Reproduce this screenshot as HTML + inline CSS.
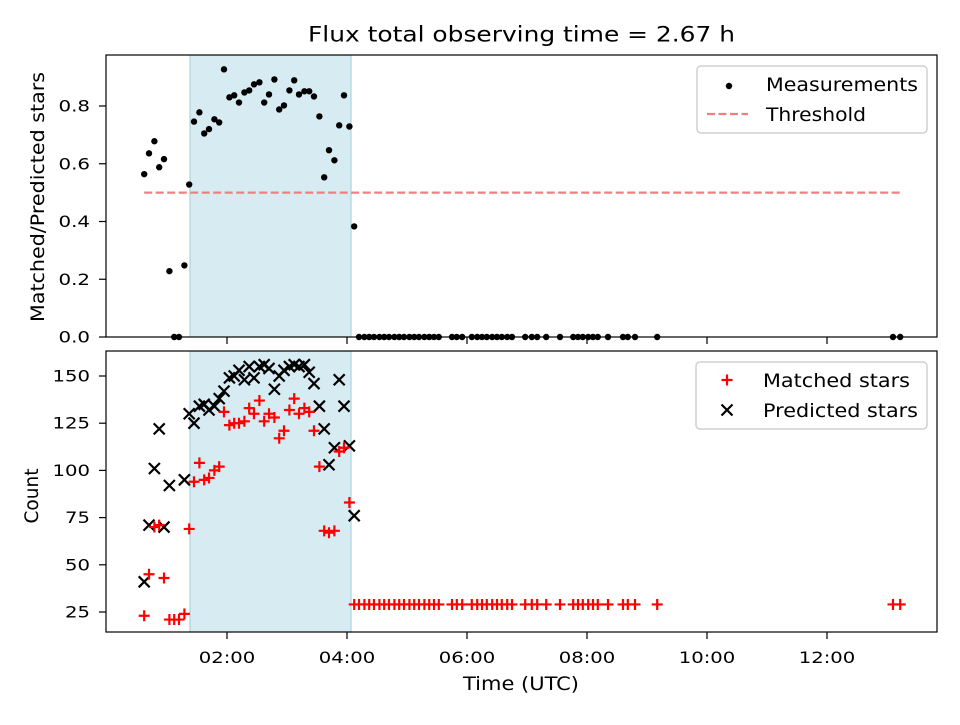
<!DOCTYPE html>
<html><head><meta charset="utf-8"><style>
body{margin:0;background:#fff;}
svg text{font-family:"DejaVu Sans","Liberation Sans",sans-serif;fill:#000;}
</style></head><body>
<svg id="fig" width="960" height="720" viewBox="0 0 960 720" xmlns="http://www.w3.org/2000/svg"></svg>
<script>
const shadedTimes = [0.62,0.70,0.79,0.87,0.95,1.04,1.12,1.20,1.29,1.37,1.45,1.54,1.62,1.70,1.79,1.87,1.95,2.04,2.12,2.20,2.29,2.37,2.45,2.54,2.62,2.70,2.79,2.87,2.95,3.04,3.12,3.20,3.29,3.37,3.45,3.54,3.62,3.70,3.79,3.87,3.95,4.04,4.12];
const ratioVals = [0.564,0.636,0.678,0.588,0.616,0.228,0,0,0.248,0.528,0.746,0.778,0.705,0.72,0.754,0.743,0.927,0.83,0.837,0.812,0.847,0.854,0.875,0.882,0.812,0.84,0.892,0.788,0.802,0.854,0.889,0.84,0.851,0.851,0.833,0.764,0.553,0.647,0.612,0.733,0.837,0.729,0.383];
const matchedVals = [23,45,70,71,43,21,21,21,24,69,94,104,95,96,100,102,131,124,125,125,126,133,130,137,126,130,128,117,121,132,138,130,133,131,121,102,68,67,68,110,112,83,29];
const predictedVals = [41,71,101,122,70,92,null,null,95,130,125,134,135,132,134,138,142,149,150,153,148,155,149,155,156,154,143,150,153,155,156,155,156,152,146,134,122,103,112,148,134,113,76];
const laterTimes = [4.20,4.29,4.37,4.45,4.54,4.62,4.70,4.79,4.87,4.95,5.04,5.12,5.20,5.29,5.37,5.45,5.53,5.75,5.83,5.92,6.08,6.17,6.25,6.33,6.42,6.50,6.58,6.67,6.75,6.97,7.08,7.17,7.32,7.55,7.77,7.85,7.93,8.02,8.10,8.18,8.35,8.60,8.68,8.80,9.17,13.10,13.22];
const laterRatio = 0;
const laterMatched = 29;
const threshold = 0.5;
const thresholdRange = [0.62, 13.22];
const spanRange = [1.383, 4.067];
const xTickVals = [2,4,6,8,10,12];
const xTickLabels = ["02:00","04:00","06:00","08:00","10:00","12:00"];
const topTicks = [0.0,0.2,0.4,0.6,0.8];
const botTicks = [25,50,75,100,125,150];

const NS="http://www.w3.org/2000/svg";
const svg=document.getElementById('fig');
function mk(tag,attrs,parent){const e=document.createElementNS(NS,tag);for(const k in attrs)e.setAttribute(k,attrs[k]);(parent||svg).appendChild(e);return e;}
function tlen(s){let w=0;for(const c of s){w+=(c==='.'||c===':')?6.5:12.5;}return w;}
const L=106,R=937;
const xS=t=>227+(t-2)*60;
const T={top:55,bot:337}; const B={top:351,bot:632};
const yTop=v=>337-v*288.75;
const yBot=v=>612-(v-25)*1.888;

let t=mk('text',{x:521.5,y:41.5,'text-anchor':'middle','font-size':'21',textLength:427,lengthAdjust:'spacingAndGlyphs'});
t.textContent='Flux total observing time = 2.67 h';



function panel(P,name){
  const g=mk('g',{});
  
  
  const sp=mk('rect',{x:xS(spanRange[0]),y:P.top,width:xS(spanRange[1])-xS(spanRange[0]),height:P.bot-P.top,fill:'#add8e6','fill-opacity':0.5,stroke:'#a0ccd8','stroke-width':1},g);
  
  
  return g;
}
function frame(P,g){
  const f=mk('rect',{x:L,y:P.top,width:R-L,height:P.bot-P.top,fill:'none',stroke:'#000','stroke-width':1.2},g);
  
  
  xTickVals.forEach((v,i)=>{
    const tk=mk('line',{x1:xS(v),x2:xS(v),y1:P.bot,y2:P.bot+7,stroke:'#000','stroke-width':1.2},g);
    
    
  });
}
function dot(x,y,g){const c=mk('circle',{cx:x,cy:y,r:3.2,fill:'#000'},g);}
function plus(x,y,g){const p=mk('path',{d:`M${x-5.5},${y}H${x+5.5}M${x},${y-5.5}V${y+5.5}`,stroke:'#f00','stroke-width':2.2,fill:'none'},g);}
function cross(x,y,g){const p=mk('path',{d:`M${x-5.5},${y-5.5}L${x+5.5},${y+5.5}M${x-5.5},${y+5.5}L${x+5.5},${y-5.5}`,stroke:'#000','stroke-width':2.2,fill:'none'},g);}
function ytick(g,y,label){
  mk('line',{x1:L-7,x2:L,y1:y,y2:y,stroke:'#000','stroke-width':1.2},g);
  const tx=mk('text',{x:90,y:y+5.5,'text-anchor':'end','font-size':'16',textLength:tlen(label),lengthAdjust:'spacingAndGlyphs'},g);
  tx.textContent=label;
  
  
}

// top panel
const gT=panel(T,'ratio-panel');
const th=mk('line',{x1:xS(thresholdRange[0]),x2:xS(thresholdRange[1]),y1:yTop(threshold),y2:yTop(threshold),stroke:'#f08080','stroke-width':2.2,'stroke-dasharray':'8,3.5'},gT);


shadedTimes.forEach((tt,i)=>dot(xS(tt),yTop(ratioVals[i]),gT));
laterTimes.forEach(tt=>dot(xS(tt),yTop(laterRatio),gT));
frame(T,gT);
topTicks.forEach(v=>ytick(gT,yTop(v),v.toFixed(1)));
let yl=mk('text',{x:0,y:0,'text-anchor':'middle','font-size':'19',textLength:250,lengthAdjust:'spacingAndGlyphs',transform:`translate(44,197) rotate(-90)`});
yl.textContent='Matched/Predicted stars';



// bottom panel
const gB=panel(B,'count-panel');
shadedTimes.forEach((tt,i)=>{ if(predictedVals[i]!==null) cross(xS(tt),yBot(predictedVals[i]),gB); });
shadedTimes.forEach((tt,i)=>plus(xS(tt),yBot(matchedVals[i]),gB));
laterTimes.forEach(tt=>plus(xS(tt),yBot(laterMatched),gB));
frame(B,gB);
botTicks.forEach(v=>ytick(gB,yBot(v),String(v)));
xTickVals.forEach((v,i)=>{
  const tx=mk('text',{x:xS(v),y:663,'text-anchor':'middle','font-size':'16',textLength:tlen(xTickLabels[i]),lengthAdjust:'spacingAndGlyphs'},gB);
  tx.textContent=xTickLabels[i];
  
  
});
yl=mk('text',{x:0,y:0,'text-anchor':'middle','font-size':'19',textLength:55,lengthAdjust:'spacingAndGlyphs',transform:`translate(38,496) rotate(-90)`});
yl.textContent='Count';


let xl=mk('text',{x:521,y:690,'text-anchor':'middle','font-size':'19',textLength:116,lengthAdjust:'spacingAndGlyphs'});
xl.textContent='Time (UTC)';



// legends
function legend(x,y,w,h,name){const g=mk('g',{});
  mk('rect',{x:x,y:y,width:w,height:h,rx:4,fill:'#fff','fill-opacity':0.8,stroke:'#d0d0d0','stroke-width':1.5},g);return g;}
function ltext(g,x,y,w,s,name){const e=mk('text',{x:x,y:y,'font-size':'19',textLength:w,lengthAdjust:'spacingAndGlyphs'},g);e.textContent=s;}
const lg1=legend(697,66,230,67,'ratio-legend');
dot(729,86,lg1);
ltext(lg1,766,91,152,'Measurements','legend-entry-measurements');
mk('line',{x1:707,x2:748,y1:114,y2:114,stroke:'#f08080','stroke-width':2.2,'stroke-dasharray':'8,3.5'},lg1);
ltext(lg1,766,121,100,'Threshold','legend-entry-threshold');
const lg2=legend(696,362,231,67,'count-legend');
plus(727,380,lg2);
ltext(lg2,763,387,147,'Matched stars','legend-entry-matched');
cross(727,410,lg2);
ltext(lg2,763,417,155,'Predicted stars','legend-entry-predicted');
</script>
</body></html>
